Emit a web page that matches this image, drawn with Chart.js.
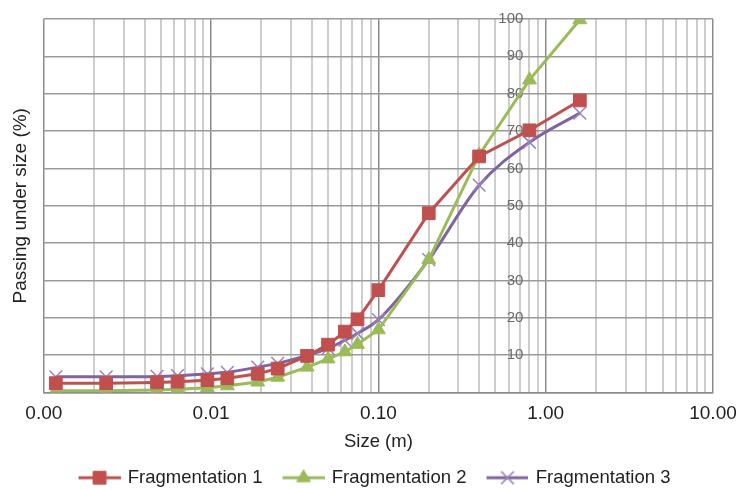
<!DOCTYPE html>
<html>
<head>
<meta charset="utf-8">
<script src="https://cdn.jsdelivr.net/npm/chart.js@4.4.1/dist/chart.umd.min.js"></script>
<style>
  html, body { margin: 0; padding: 0; background: #fff; }
  #wrap { width: 739px; height: 490px; position: relative; }
</style>
</head>
<body>
<div id="wrap"><canvas id="psdChart"></canvas></div>
<script>
// Sieve sizes (m) and cumulative passing (%)
const sizes = [0.00118, 0.00236, 0.00475, 0.0063, 0.0095, 0.0125, 0.019, 0.025, 0.0375, 0.05, 0.063, 0.075, 0.1, 0.2, 0.4, 0.8, 1.6];
const frag1 = [2.5, 2.5, 2.7, 2.9, 3.3, 3.8, 5.0, 6.4, 9.8, 12.8, 16.3, 19.6, 27.4, 48.0, 63.2, 70.2, 78.2];
const frag2 = [0.5, 0.5, 0.7, 0.9, 1.3, 1.8, 2.8, 4.1, 6.8, 9.0, 10.9, 12.9, 16.8, 35.6, 63.6, 83.7, 99.8];
const frag3 = [4.2, 4.2, 4.3, 4.5, 5.0, 5.4, 6.8, 7.8, 9.9, 11.8, 14.0, 15.8, 19.5, 35.6, 55.5, 67.0, 74.8];
const seriesNames = ['Fragmentation 1', 'Fragmentation 2', 'Fragmentation 3'];

const xMin = 0.001, xMax = 10;
const yMin = 0, yMax = 100, yStep = 10;

const colors = ['#C0504D', '#9BBB59', '#8064A2'];
const markerColors = ['#C0504D', '#9BBB59', '#9A82C0'];
const markers = ['rect', 'triangle', 'crossRot'];
const radii = [9, 8, 9];

function isPow10(v) {
    const l = Math.log10(v);
    return Math.abs(l - Math.round(l)) < 1e-9;
}

function toPoints(vals) {
    return sizes.map((s, i) => ({ x: s, y: vals[i] }));
}

// legend glyph: line with the marker in the middle
function legendGlyph(i) {
    const c = document.createElement('canvas');
    c.width = 50; c.height = 20;
    const g = c.getContext('2d');
    g.strokeStyle = colors[i];
    g.lineWidth = 3;
    g.beginPath(); g.moveTo(8, 10); g.lineTo(50, 10); g.stroke();
    g.fillStyle = markerColors[i];
    g.strokeStyle = markerColors[i];
    g.lineWidth = i === 2 ? 1.5 : 1;
    Chart.helpers.drawPoint(g, {
        pointStyle: markers[i], radius: radii[i], borderWidth: g.lineWidth
    }, 29, 10);
    return c;
}

const data = [frag1, frag2, frag3];
const datasets = data.map((vals, i) => ({
    label: seriesNames[i],
    data: toPoints(vals),
    borderColor: colors[i],
    backgroundColor: markerColors[i],
    pointBorderColor: markerColors[i],
    pointBackgroundColor: markerColors[i],
    pointStyle: markers[i],
    pointRadius: radii[i],
    pointBorderWidth: i === 2 ? 1.5 : 1,
    borderWidth: 3,
    tension: i === 2 ? 0.4 : 0,
    cubicInterpolationMode: i === 2 ? 'monotone' : 'default'
}));

const ctx = document.getElementById('psdChart').getContext('2d');
const psdChart = new Chart(ctx, {
    type: 'line',
    data: { datasets: datasets },
    options: {
        responsive: true,
        maintainAspectRatio: false,
        animation: false,
        layout: { padding: { top: 19, right: 0, left: 4, bottom: -7 } },
        scales: {
            x: {
                type: 'logarithmic',
                min: xMin,
                max: xMax,
                afterBuildTicks: (scale) => {
                    const t = [];
                    for (let e = -3; e < 1; e++) {
                        for (let m = 1; m <= 9; m++) {
                            t.push({ value: +(m * Math.pow(10, e)).toPrecision(6) });
                        }
                    }
                    t.push({ value: 10 });
                    scale.ticks = t;
                },
                afterFit: (scale) => { scale.paddingRight = 26; },
                ticks: {
                    autoSkip: false,
                    maxRotation: 0,
                    padding: 10,
                    color: '#222',
                    font: { family: 'Liberation Sans', size: 19 },
                    callback: (v) => isPow10(v) ? Number(v).toFixed(2) : ''
                },
                grid: {
                    drawTicks: false,
                    color: (c) => c.tick && isPow10(c.tick.value) ? '#8c8c8c' : '#cdcdcd',
                    lineWidth: (c) => c.tick && isPow10(c.tick.value) ? 1.5 : 2
                },
                border: { color: '#8c8c8c', width: 1.5 },
                title: {
                    display: true,
                    text: 'Size (m)',
                    color: '#222',
                    font: { family: 'Liberation Sans', size: 18.5 },
                    padding: { top: -4, bottom: 1 }
                }
            },
            y: {
                type: 'linear',
                min: yMin,
                max: yMax,
                position: { x: 0.735 },
                afterFit: (scale) => { scale.width = 0; },
                ticks: {
                    stepSize: yStep,
                    color: '#6b6b6b',
                    font: { family: 'Liberation Sans', size: 15 },
                    callback: (v) => v === 0 ? '' : v
                },
                grid: { drawTicks: false, color: '#999', lineWidth: 1.5 },
                border: { display: false }
            },
            yt: {
                type: 'linear',
                position: 'left',
                ticks: { display: false },
                grid: { display: false, drawTicks: false },
                border: { display: false },
                title: {
                    display: true,
                    text: 'Passing under size (%)',
                    color: '#222',
                    font: { family: 'Liberation Sans', size: 19 },
                    padding: { top: 5, bottom: 12 }
                }
            }
        },
        plugins: {
            legend: {
                position: 'bottom',
                labels: {
                    usePointStyle: true,
                    pointStyleWidth: 46,
                    color: '#222',
                    padding: 14,
                    font: { family: 'Liberation Sans', size: 18.5 },
                    generateLabels: (chart) => chart.data.datasets.map((d, i) => ({
                        text: d.label,
                        pointStyle: legendGlyph(i),
                        fillStyle: colors[i],
                        strokeStyle: colors[i],
                        lineWidth: 0,
                        hidden: false,
                        datasetIndex: i,
                        fontColor: '#222'
                    }))
                }
            },
            tooltip: { enabled: false }
        }
    }
});
</script>
</body>
</html>
